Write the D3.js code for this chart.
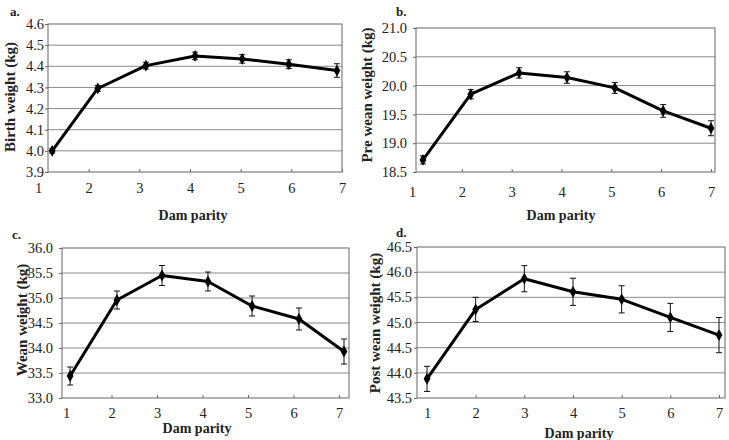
<!DOCTYPE html>
<html>
<head>
<meta charset="utf-8">
<script src="https://cdn.jsdelivr.net/npm/d3@7"></script>
<style>
  body { margin: 0; background: #fff; }
  svg { display: block; font-family: "Liberation Serif", "Times New Roman", serif; }
</style>
</head>
<body>
<svg id="chart" width="729" height="440"></svg>
<script>
// x tick labels (dam parity)
const parity = [1, 2, 3, 4, 5, 6, 7];

// a. birth weight
const birthX = [1.28, 2.18, 3.13, 4.1, 5.03, 5.95, 6.9];
const birthMean = [4.0, 4.295, 4.403, 4.449, 4.435, 4.41, 4.38];
const birthSe = [0.01, 0.014, 0.016, 0.018, 0.02, 0.021, 0.032];

// b. pre wean weight
const preX = [1.22, 2.18, 3.15, 4.11, 5.07, 6.04, 7.0];
const preMean = [18.71, 19.85, 20.22, 20.14, 19.96, 19.56, 19.26];
const preSe = [0.07, 0.08, 0.09, 0.1, 0.095, 0.11, 0.13];

// c. wean weight
const weanX = [1.09, 2.12, 3.11, 4.12, 5.09, 6.12, 7.11];
const weanMean = [33.44, 34.96, 35.45, 35.33, 34.84, 34.58, 33.93];
const weanSe = [0.18, 0.18, 0.2, 0.19, 0.2, 0.22, 0.25];

// d. post wean weight
const postX = [1, 2, 3, 4, 5, 6, 7];
const postMean = [43.88, 45.26, 45.87, 45.61, 45.46, 45.1, 44.75];
const postSe = [0.25, 0.24, 0.26, 0.27, 0.27, 0.28, 0.35];

const panels = [
  { tag: "a.", ylabel: "Birth weight (kg)", x: birthX, mean: birthMean, se: birthSe,
    yDomain: [3.9, 4.6], yStep: 0.1,
    plot: { l: 48, r: 342, t: 24, b: 172 }, xr: [38, 342], pad: 1,
    tagPos: [10, 16], ylabPos: [15, 97], xtPos: [193, 220], xlabY: 193 },
  { tag: "b.", ylabel: "Pre wean weight (kg)", x: preX, mean: preMean, se: preSe,
    yDomain: [18.5, 21.0], yStep: 0.5,
    plot: { l: 416, r: 715, t: 28, b: 172 }, xr: [412, 711], pad: 6,
    tagPos: [396, 16], ylabPos: [372, 95], xtPos: [561, 220], xlabY: 197 },
  { tag: "c.", ylabel: "Wean weight (kg)", x: weanX, mean: weanMean, se: weanSe,
    yDomain: [33.0, 36.0], yStep: 0.5,
    plot: { l: 62, r: 349, t: 248, b: 398 }, xr: [66, 339], pad: 6,
    tagPos: [12, 239], ylabPos: [27, 320], xtPos: [197, 433], xlabY: 418 },
  { tag: "d.", ylabel: "Post wean weight (kg)", x: postX, mean: postMean, se: postSe,
    yDomain: [43.5, 46.5], yStep: 0.5,
    plot: { l: 417, r: 725, t: 247, b: 398 }, xr: [427, 719], pad: 2,
    tagPos: [396, 237], ylabPos: [380, 323], xtPos: [579, 438], xlabY: 418 }
];

const svg = d3.select("#chart");
const fmt = d3.format(".1f");

panels.forEach(p => {
  const g = svg.append("g");
  const yTicks = d3.range(p.yDomain[0], p.yDomain[1] + p.yStep / 2, p.yStep);

  const x = d3.scaleLinear().domain([1, 7]).range(p.xr);
  const y = d3.scaleLinear().domain(p.yDomain).range([p.plot.b, p.plot.t]);

  // gridlines
  g.append("g")
    .selectAll("line")
    .data(yTicks.slice(1, -1))
    .join("line")
    .attr("x1", p.plot.l)
    .attr("x2", p.plot.r)
    .attr("y1", d => y(d))
    .attr("y2", d => y(d))
    .attr("stroke", "#8a8a8a")
    .attr("stroke-width", 1);

  // plot box
  g.append("rect")
    .attr("x", p.plot.l)
    .attr("y", p.plot.t)
    .attr("width", p.plot.r - p.plot.l)
    .attr("height", p.plot.b - p.plot.t)
    .attr("fill", "none")
    .attr("stroke", "#666")
    .attr("stroke-width", 1);

  // y axis
  const ya = g.append("g")
    .attr("transform", `translate(${p.plot.l},0)`)
    .call(d3.axisLeft(y).tickValues(yTicks).tickFormat(fmt).tickSize(3).tickPadding(p.pad));
  ya.select(".domain").remove();
  ya.selectAll("line").attr("stroke", "#666");
  ya.selectAll("text").attr("font-size", 14.5).attr("fill", "#222")
    .attr("font-family", "Liberation Serif");

  // x axis labels
  const xa = g.append("g")
    .attr("transform", `translate(0,${p.xlabY - 10})`)
    .call(d3.axisBottom(x).tickValues(parity).tickFormat(d3.format("d")).tickSize(0).tickPadding(0));
  xa.select(".domain").remove();
  xa.selectAll("text").attr("font-size", 14.5).attr("fill", "#222")
    .attr("font-family", "Liberation Serif");

  // small inward ticks on bottom edge
  const xt = g.append("g")
    .attr("transform", `translate(0,${p.plot.b})`)
    .call(d3.axisBottom(x).tickValues(parity.slice(1)).tickSize(-3).tickFormat(""));
  xt.select(".domain").remove();
  xt.selectAll("line").attr("stroke", "#666");

  const pts = p.mean.map((m, i) => ({ x: p.x[i], m: m, se: p.se[i] }));

  // error bars
  const eb = g.append("g").attr("stroke", "#111").attr("stroke-width", 1);
  eb.selectAll(".v").data(pts).join("line")
    .attr("x1", d => x(d.x)).attr("x2", d => x(d.x))
    .attr("y1", d => y(d.m - d.se)).attr("y2", d => y(d.m + d.se));
  eb.selectAll(".t").data(pts).join("line")
    .attr("x1", d => x(d.x) - 3).attr("x2", d => x(d.x) + 3)
    .attr("y1", d => y(d.m + d.se)).attr("y2", d => y(d.m + d.se));
  eb.selectAll(".b").data(pts).join("line")
    .attr("x1", d => x(d.x) - 3).attr("x2", d => x(d.x) + 3)
    .attr("y1", d => y(d.m - d.se)).attr("y2", d => y(d.m - d.se));

  // line
  g.append("path")
    .datum(pts)
    .attr("fill", "none")
    .attr("stroke", "#000")
    .attr("stroke-width", 3)
    .attr("stroke-linejoin", "round")
    .attr("d", d3.line().x(d => x(d.x)).y(d => y(d.m)));

  // diamond markers
  g.selectAll(".mk").data(pts).join("path")
    .attr("transform", d => `translate(${x(d.x)},${y(d.m)})`)
    .attr("d", d3.symbol(d3.symbolDiamond, 40))
    .attr("fill", "#000");

  // labels
  g.append("text")
    .attr("x", p.tagPos[0]).attr("y", p.tagPos[1])
    .attr("font-size", 13).attr("font-weight", "bold").attr("fill", "#222")
    .text(p.tag);

  g.append("text")
    .attr("transform", `translate(${p.ylabPos[0]},${p.ylabPos[1]}) rotate(-90)`)
    .attr("text-anchor", "middle")
    .attr("font-size", 15).attr("font-weight", "bold").attr("fill", "#222")
    .text(p.ylabel);

  g.append("text")
    .attr("x", p.xtPos[0]).attr("y", p.xtPos[1])
    .attr("text-anchor", "middle")
    .attr("font-size", 14).attr("font-weight", "bold").attr("fill", "#222")
    .text("Dam parity");
});
</script>
</body>
</html>
